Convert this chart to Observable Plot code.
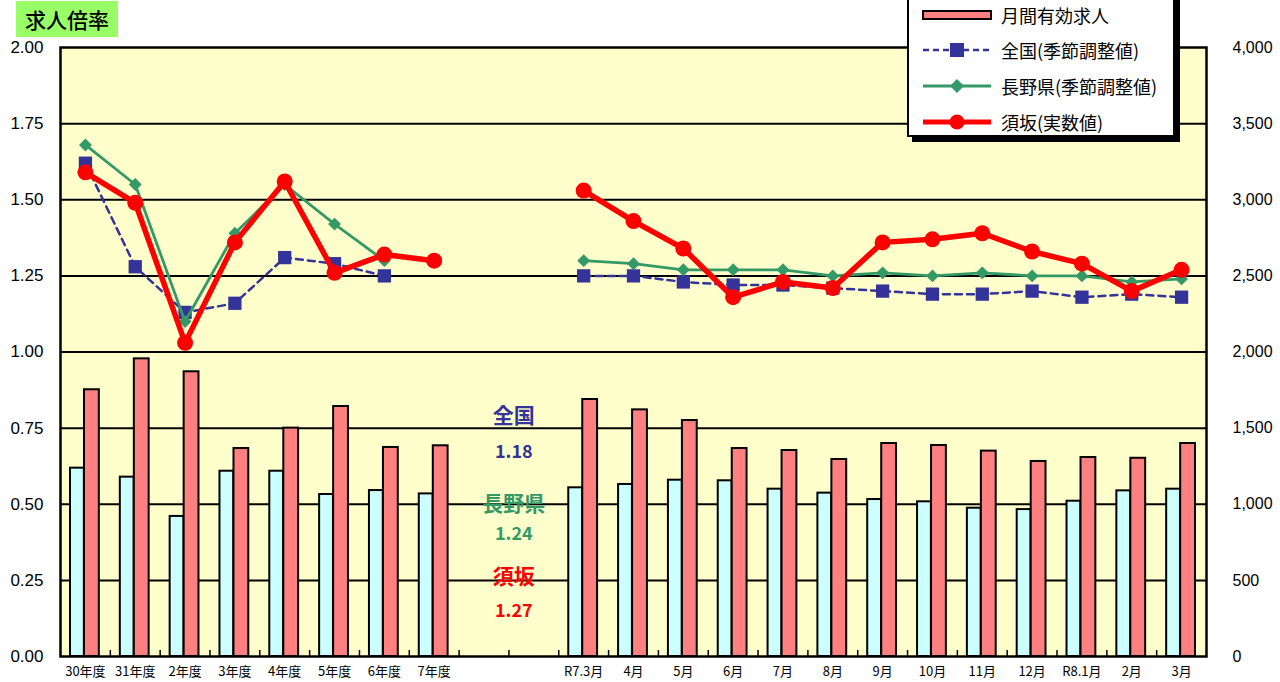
<!DOCTYPE html>
<html><head><meta charset="utf-8">
<script src="https://cdn.jsdelivr.net/npm/d3@7"></script>
<script src="https://cdn.jsdelivr.net/npm/@observablehq/plot@0.6"></script>
<style>
body{margin:0;background:#fff;font-family:"Noto Sans CJK JP","Liberation Sans",sans-serif;}
#wrap{position:relative;width:1280px;height:682px;overflow:hidden;}
#chart{position:absolute;left:0;top:0;}
#title{position:absolute;left:16px;top:1px;width:102px;height:36px;background:#99ff66;font-size:21px;font-weight:500;line-height:36px;text-align:center;color:#000;}
#legend{position:absolute;left:907px;top:-12px;width:268px;height:149px;background:#fff;border:2.5px solid #000;box-shadow:5px 5px 0 #000;box-sizing:border-box;}
.row{position:absolute;left:12px;height:30px;display:flex;align-items:center;font-size:18px;color:#000;white-space:nowrap;}
.row svg{margin-right:8px;}
</style>
</head><body>
<div id="wrap">
  <div id="chart"></div>
  <div id="title">求人倍率</div>
  <div id="legend"></div>
</div>
<script>
// ---- data ----
const annualLabels = ["30年度","31年度","2年度","3年度","4年度","5年度","6年度","7年度"];
const gapLabels = ["_gap1","_gap2"];
const monthLabels = ["R7.3月","4月","5月","6月","7月","8月","9月","10月","11月","12月","R8.1月","2月","3月"];

// bars (right axis, persons)
const seekersAnnual = [1237,1178,920,1217,1217,1064,1090,1068];      // light cyan bars
const offersAnnual  = [1752,1955,1870,1366,1500,1642,1373,1384];     // 月間有効求人
const seekersMonthly = [1108,1130,1158,1154,1099,1073,1031,1016,974,965,1020,1088,1099];
const offersMonthly  = [1688,1620,1550,1366,1353,1294,1399,1386,1349,1281,1307,1302,1399];

// ratios (left axis)
const zenkokuAnnual = [1.62,1.28,1.13,1.16,1.31,1.29,1.25,null];
const naganoAnnual  = [1.68,1.55,1.10,1.39,1.55,1.42,1.30,null];
const sukaAnnual    = [1.59,1.49,1.03,1.36,1.56,1.26,1.32,1.30];
const zenkokuMonthly = [1.25,1.25,1.23,1.22,1.22,1.21,1.20,1.19,1.19,1.20,1.18,1.19,1.18];
const naganoMonthly  = [1.30,1.29,1.27,1.27,1.27,1.25,1.26,1.25,1.26,1.25,1.25,1.23,1.24];
const sukaMonthly    = [1.53,1.43,1.34,1.18,1.23,1.21,1.36,1.37,1.39,1.33,1.29,1.20,1.27];

const leftTicks = [0,0.25,0.5,0.75,1,1.25,1.5,1.75,2];
const rightMax = 4000, leftMax = 2;

// ---- build tables ----
const categories = [...annualLabels, ...gapLabels, ...monthLabels];
const bars = [
  ...annualLabels.map((c,i)=>({cat:c, seekers:seekersAnnual[i], offers:offersAnnual[i]})),
  ...monthLabels.map((c,i)=>({cat:c, seekers:seekersMonthly[i], offers:offersMonthly[i]}))
];
function seriesRows(name, annual, monthly){
  const rows=[];
  annualLabels.forEach((c,i)=>{ if(annual[i]!=null) rows.push({cat:c, v:annual[i], s:name, g:name+"A"}); });
  monthLabels.forEach((c,i)=>{ if(monthly[i]!=null) rows.push({cat:c, v:monthly[i], s:name, g:name+"M"}); });
  return rows;
}
const zenkoku = seriesRows("全国", zenkokuAnnual, zenkokuMonthly);
const nagano  = seriesRows("長野県", naganoAnnual, naganoMonthly);
const suka    = seriesRows("須坂", sukaAnnual, sukaMonthly);

const C = {blue:"#333399", green:"#339966", red:"#ff0000", pink:"#ff8080", cyan:"#ccffff", bg:"#ffffcc"};
const toLeft = v => v / rightMax * leftMax;

const W=1280,H=682, mL=60, mR=74, mT=47, mB=26;
const bw = (W-mL-mR)/categories.length;

const notes = [
  {label:"全国", value:zenkokuMonthly[zenkokuMonthly.length-1], color:C.blue, y1:0.79, y2:0.67},
  {label:"長野県", value:naganoMonthly[naganoMonthly.length-1], color:C.green, y1:0.50, y2:0.40},
  {label:"須坂", value:sukaMonthly[sukaMonthly.length-1], color:C.red, y1:0.26, y2:0.15}
];

const chart = Plot.plot({
  width:W, height:H, marginLeft:mL, marginRight:mR, marginTop:mT, marginBottom:mB,
  style:{background:"transparent", fontFamily:"'Liberation Sans', 'Noto Sans CJK JP', sans-serif", color:"#000", overflow:"visible"},
  x:{type:"band", domain:categories, padding:0, round:false, range:[mL, W-mR], axis:null},
  y:{domain:[0,leftMax], range:[H-mB, mT], axis:null},
  marks:[
    Plot.frame({fill:C.bg, stroke:"none"}),
    Plot.ruleY(leftTicks.slice(1,-1), {stroke:"#000", strokeWidth:2}),
    Plot.barY(bars, {x:"cat", y:d=>toLeft(d.seekers), fill:C.cyan, stroke:"#000", strokeWidth:2, insetLeft:10, insetRight:26}),
    Plot.barY(bars, {x:"cat", y:d=>toLeft(d.offers), fill:C.pink, stroke:"#000", strokeWidth:2, insetLeft:24, insetRight:11}),
    // 全国
    Plot.line(zenkoku, {x:"cat", y:"v", z:"g", stroke:C.blue, strokeWidth:2.5, strokeDasharray:"7,5"}),
    Plot.dot(zenkoku, {x:"cat", y:"v", symbol:"square", r:7.5, fill:C.blue, stroke:"none"}),
    // 長野県
    Plot.line(nagano, {x:"cat", y:"v", z:"g", stroke:C.green, strokeWidth:2.8}),
    Plot.dot(nagano, {x:"cat", y:"v", symbol:"diamond2", r:5.8, fill:C.green, stroke:"none"}),
    // 須坂
    Plot.line(suka, {x:"cat", y:"v", z:"g", stroke:C.red, strokeWidth:5.5}),
    Plot.dot(suka, {x:"cat", y:"v", r:8, fill:C.red, stroke:"none"}),
    // annotations
    Plot.text(notes, {x:()=>gapLabels[1], y:"y1", text:"label", fill:"color", dx:-20, fontSize:21, fontWeight:"bold", fontFamily:"'Noto Sans CJK JP'"}),
    Plot.text(notes, {x:()=>gapLabels[1], y:"y2", text:d=>d.value.toFixed(2), fill:"color", dx:-20, fontSize:18, fontWeight:"bold", fontFamily:"'Noto Sans CJK JP'"}),
    // frame
    Plot.frame({stroke:"#000", strokeWidth:2.5}),
    // axes
    Plot.axisY({anchor:"left", ticks:leftTicks, tickFormat:d3.format(".2f"), tickSize:0, tickPadding:17, fontSize:17, label:null}),
    Plot.axisY({anchor:"right", ticks:leftTicks, tickFormat:d=>d3.format(",")(Math.round(d/leftMax*rightMax)), tickSize:0, tickPadding:26, fontSize:16, label:null}),
    Plot.axisX({ticks:categories, tickFormat:d=>d.startsWith("_")?"":d, tickSize:0, tickPadding:10, fontSize:13, fontFamily:"'Noto Sans CJK JP'", label:null}),
    Plot.axisX({ticks:categories.slice(1), tickFormat:()=>"", tickSize:-6, dx:-bw/2, strokeWidth:1.5, label:null})
  ]
});
document.getElementById("chart").appendChild(chart);

// ---- legend ----
const legendItems = [
  {label:"月間有効求人", kind:"bar"},
  {label:"全国(季節調整値)", kind:"square", color:C.blue},
  {label:"長野県(季節調整値)", kind:"diamond", color:C.green},
  {label:"須坂(実数値)", kind:"circle", color:C.red}
];
const rowTops = [15, 50, 86, 122];
const lg = document.getElementById("legend");
legendItems.forEach((it,i)=>{
  const row = document.createElement("div");
  row.className="row"; row.style.top = (rowTops[i]-15+12-2)+"px";
  let s = '<svg width="72" height="20" viewBox="0 0 72 20">';
  if(it.kind==="bar") s += `<rect x="2" y="6" width="68" height="8" fill="${C.pink}" stroke="#000" stroke-width="2"/>`;
  if(it.kind==="square") s += `<line x1="2" y1="10" x2="70" y2="10" stroke="${it.color}" stroke-width="2.5" stroke-dasharray="6,4"/><rect x="29" y="3" width="14" height="14" fill="${it.color}"/>`;
  if(it.kind==="diamond") s += `<line x1="2" y1="10" x2="70" y2="10" stroke="${it.color}" stroke-width="2.8"/><path d="M36 3L43 10L36 17L29 10Z" fill="${it.color}"/>`;
  if(it.kind==="circle") s += `<line x1="2" y1="10" x2="70" y2="10" stroke="${it.color}" stroke-width="5"/><circle cx="36" cy="10" r="7.5" fill="${it.color}"/>`;
  s += '</svg>';
  row.innerHTML = s + `<span>${it.label}</span>`;
  lg.appendChild(row);
});
</script>
</body></html>
